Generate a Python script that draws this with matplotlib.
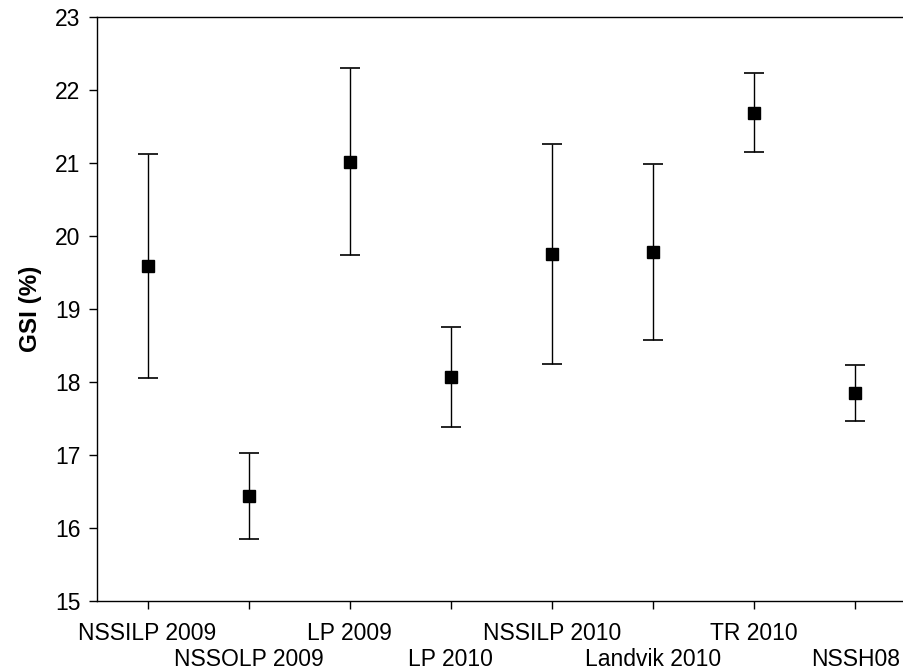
import matplotlib.pyplot as plt
from matplotlib.transforms import ScaledTranslation

plt.rcParams['font.family'] = ['Liberation Sans', 'DejaVu Sans']

# Data
sites = ['NSSILP 2009', 'NSSOLP 2009', 'LP 2009', 'LP 2010',
         'NSSILP 2010', 'Landvik 2010', 'TR 2010', 'NSSH08']
gsi_mean = [19.59, 16.44, 21.02, 18.07, 19.75, 19.78, 21.69, 17.85]
gsi_err = [1.53, 0.59, 1.28, 0.68, 1.51, 1.21, 0.54, 0.38]

fig = plt.figure(figsize=(9.04, 6.72), dpi=100)
ax = fig.add_axes([97 / 904, 71 / 672, 809 / 904, 584 / 672])

x = list(range(1, len(sites) + 1))
ax.errorbar(x, gsi_mean, yerr=gsi_err, fmt='s', color='black',
            markersize=8.5, capsize=7.5, elinewidth=1, capthick=1.2,
            ecolor='black')

ax.set_xlim(0.5, 8.5)
ax.set_ylim(15, 23)
ax.set_yticks(range(15, 24))
ax.set_xticks(x)
ax.set_xticklabels(sites)

ax.tick_params(axis='both', direction='out', length=6, width=1,
               labelsize=16.5, color='black')
ax.tick_params(axis='x', pad=9)
ax.tick_params(axis='y', pad=6)

# every second label goes on a lower row
shift = ScaledTranslation(0, -0.26, fig.dpi_scale_trans)
for i, lab in enumerate(ax.get_xticklabels()):
    if i % 2 == 1:
        lab.set_transform(lab.get_transform() + shift)

ax.spines['right'].set_visible(False)
for s in ['left', 'top', 'bottom']:
    ax.spines[s].set_linewidth(1)

ax.set_ylabel('GSI (%)', fontsize=17.5, fontweight='bold', labelpad=9)

fig.savefig('out.png', dpi=100)
